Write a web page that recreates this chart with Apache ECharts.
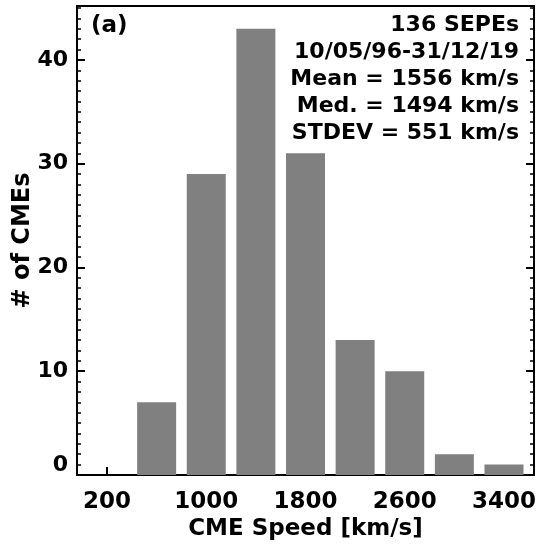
<!DOCTYPE html>
<html>
<head>
<meta charset="utf-8">
<script src="https://cdn.jsdelivr.net/npm/echarts@6/dist/echarts.min.js"></script>
<style>
html,body{margin:0;padding:0;background:#fff;}
#chart{width:537px;height:548px;}
</style>
</head>
<body>
<div id="chart"></div>
<script>
// Data
const speedBins = [200, 600, 1000, 1400, 1800, 2200, 2600, 3000, 3400];
const counts = [0, 7, 29, 43, 31, 13, 10, 2, 1];
const xTickValues = [200, 600, 1000, 1400, 1800, 2200, 2600, 3000, 3400];
const xLabelValues = [200, 1000, 1800, 2600, 3400];
const annotLines = ['136 SEPEs', '10/05/96-31/12/19', 'Mean = 1556 km/s', 'Med. = 1494 km/s', 'STDEV = 551 km/s'];

const FONT = 'DejaVu Sans';
const chart = echarts.init(document.getElementById('chart'), null, {renderer: 'canvas'});

const xMin = -42, xMax = 3642, yMin = 0, yMax = 45.2;

const annotGraphics = annotLines.map((t, i) => ({
  type: 'text',
  right: 18,
  top: 14 + i * 27,
  style: {text: t, font: 'bold 22px "' + FONT + '"', fill: '#000', textAlign: 'right'}
}));

chart.setOption({
  animation: false,
  backgroundColor: '#fff',
  grid: {left: 77, right: 3, top: 6, bottom: 73, containLabel: false, outerBoundsMode: 'none'},
  xAxis: [{
    type: 'value', min: xMin, max: xMax, position: 'bottom',
    name: 'CME Speed [km/s]', nameLocation: 'middle', nameGap: 43, nameMoveOverlap: false,
    nameTextStyle: {fontFamily: FONT, fontWeight: 'bold', fontSize: 23, color: '#000', verticalAlign: 'top'},
    axisLine: {show: true, onZero: false, lineStyle: {color: '#000', width: 2}},
    axisTick: {show: true, inside: true, length: 8, lineStyle: {color: '#000', width: 2}, customValues: xTickValues},
    axisLabel: {show: true, margin: 16, fontFamily: FONT, fontWeight: 'bold', fontSize: 23, color: '#000',
      customValues: xLabelValues, formatter: v => String(v)},
    splitLine: {show: false}
  }, {
    type: 'value', min: xMin, max: xMax, position: 'top',
    axisLine: {show: true, onZero: false, lineStyle: {color: '#000', width: 2}},
    axisTick: {show: false}, axisLabel: {show: false}, splitLine: {show: false}
  }],
  yAxis: [{
    type: 'value', min: yMin, max: yMax, interval: 10, position: 'left',
    name: '# of CMEs', nameLocation: 'middle', nameGap: 42, nameRotate: 90, nameMoveOverlap: false,
    nameTextStyle: {fontFamily: FONT, fontWeight: 'bold', fontSize: 24, color: '#000'},
    axisLine: {show: true, onZero: false, lineStyle: {color: '#000', width: 2}},
    axisTick: {show: true, inside: true, length: 8, lineStyle: {color: '#000', width: 2}},
    minorTick: {show: true, splitNumber: 10, length: 4, lineStyle: {color: '#000', width: 1.5}},
    axisLabel: {
      show: true, margin: 9, fontFamily: FONT, fontWeight: 'bold', fontSize: 22, color: '#000',
      showMaxLabel: false,
      formatter: v => v === 0 ? '{z|0}' : String(v),
      rich: {z: {fontFamily: FONT, fontWeight: 'bold', fontSize: 22, color: '#000', padding: [0, 0, 20, 0]}}
    },
    splitLine: {show: false}
  }, {
    type: 'value', min: yMin, max: yMax, interval: 10, position: 'right',
    axisLine: {show: true, onZero: false, lineStyle: {color: '#000', width: 2}},
    axisTick: {show: true, inside: true, length: 8, lineStyle: {color: '#000', width: 2}},
    minorTick: {show: true, splitNumber: 10, length: 4, lineStyle: {color: '#000', width: 1.5}},
    axisLabel: {show: false}, splitLine: {show: false}
  }],
  series: [{
    type: 'bar',
    xAxisIndex: 0, yAxisIndex: 0,
    data: speedBins.map((s, i) => [s, counts[i]]),
    barWidth: 39,
    itemStyle: {color: '#808080'},
    z: 1
  }],
  graphic: [{
    type: 'text', left: 91, top: 15,
    style: {text: '(a)', font: 'bold 23px "' + FONT + '"', fill: '#000'}
  }].concat(annotGraphics)
});
</script>
</body>
</html>
